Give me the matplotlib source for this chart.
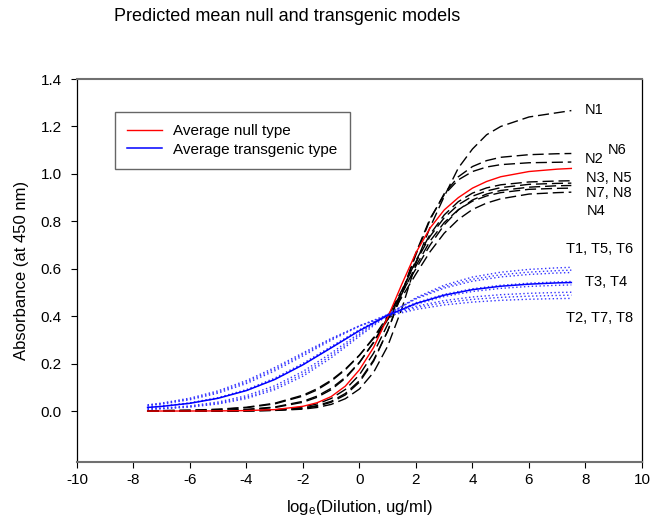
import matplotlib
matplotlib.use('Agg')
import matplotlib.pyplot as plt

plt.rcParams['font.family'] = ['Liberation Sans', 'DejaVu Sans']
plt.rcParams['mathtext.fontset'] = 'custom'
plt.rcParams['mathtext.rm'] = 'Liberation Sans'
plt.rcParams['mathtext.it'] = 'Liberation Sans:italic'
plt.rcParams['axes.unicode_minus'] = False

x_null = [-7.5, -7, -6, -5, -4, -3, -2, -1.5, -1, -0.5, 0, 0.5, 1, 1.5,
          2, 2.5, 3, 3.5, 4, 4.5, 5, 6, 7, 7.5]
x_trans = [-7.5, -7, -6, -5, -4, -3, -2, -1, 0, 1, 2, 3, 4, 5, 6, 7, 7.5]

# null models
n1 = [0.000, 0.000, 0.0001, 0.0002, 0.0007, 0.0024, 0.008, 0.015, 0.028, 0.052,
      0.093, 0.163, 0.274, 0.432, 0.623, 0.775, 0.905, 1.025, 1.105, 1.165,
      1.200, 1.240, 1.258, 1.267]
n2 = [0.000, 0.000, 0.0001, 0.0002, 0.0008, 0.003, 0.011, 0.020, 0.037, 0.068,
      0.122, 0.210, 0.338, 0.498, 0.668, 0.812, 0.912, 0.975, 1.010, 1.029,
      1.039, 1.047, 1.049, 1.050]
n6 = [0.000, 0.000, 0.0001, 0.0003, 0.0011, 0.0037, 0.0125, 0.023, 0.041, 0.074,
      0.128, 0.215, 0.338, 0.494, 0.660, 0.807, 0.917, 0.988, 1.031, 1.056,
      1.070, 1.081, 1.085, 1.086]
n3 = [0.000, 0.0001, 0.0002, 0.0005, 0.0016, 0.0053, 0.017, 0.030, 0.053, 0.091,
      0.153, 0.244, 0.366, 0.505, 0.635, 0.745, 0.827, 0.883, 0.919, 0.941,
      0.954, 0.966, 0.970, 0.971]
n5 = [0.0002, 0.0003, 0.0009, 0.0022, 0.0057, 0.0147, 0.037, 0.058, 0.090, 0.138,
      0.204, 0.291, 0.395, 0.510, 0.630, 0.737, 0.815, 0.870, 0.906, 0.928,
      0.942, 0.956, 0.960, 0.961]
n7 = [0.0010, 0.0014, 0.0031, 0.0066, 0.0142, 0.030, 0.063, 0.089, 0.126, 0.174,
      0.235, 0.310, 0.400, 0.500, 0.600, 0.700, 0.785, 0.848, 0.890, 0.915,
      0.930, 0.944, 0.950, 0.951]
n8 = [0.0003, 0.0005, 0.0011, 0.0028, 0.0069, 0.017, 0.041, 0.063, 0.096, 0.142,
      0.206, 0.288, 0.386, 0.494, 0.612, 0.717, 0.795, 0.849, 0.885, 0.907,
      0.921, 0.935, 0.939, 0.940]
n4 = [0.0012, 0.0018, 0.0037, 0.0077, 0.016, 0.033, 0.067, 0.094, 0.130, 0.177,
      0.236, 0.306, 0.386, 0.480, 0.578, 0.672, 0.750, 0.808, 0.850, 0.877,
      0.895, 0.915, 0.921, 0.923]
null_avg = [0.000, 0.000, 0.0001, 0.0006, 0.0019, 0.006, 0.020, 0.035, 0.061, 0.105,
            0.174, 0.268, 0.395, 0.535, 0.668, 0.772, 0.848, 0.900, 0.940, 0.968,
            0.988, 1.010, 1.020, 1.023]

# transgenic models
t1 = [0.0068, 0.0092, 0.0167, 0.0298, 0.0526, 0.090, 0.147, 0.2245, 0.3153,
      0.4045, 0.4782, 0.5309, 0.565, 0.5854, 0.5973, 0.6038, 0.606]
t5 = [0.0079, 0.0106, 0.0189, 0.0335, 0.0581, 0.0977, 0.1565, 0.2341, 0.3222,
      0.4068, 0.4754, 0.5243, 0.5557, 0.5748, 0.5858, 0.5921, 0.5941]
t6 = [0.0094, 0.0125, 0.0219, 0.0381, 0.0648, 0.1067, 0.1669, 0.2441, 0.3292,
      0.4089, 0.4728, 0.5182, 0.5476, 0.5655, 0.576, 0.5821, 0.5841]
t3 = [0.0152, 0.0197, 0.033, 0.0543, 0.0871, 0.1343, 0.1964, 0.2685, 0.3418,
      0.4065, 0.4568, 0.4922, 0.5156, 0.5302, 0.5391, 0.5444, 0.5462]
t4 = [0.0159, 0.0207, 0.0346, 0.0568, 0.0906, 0.1388, 0.201, 0.2722, 0.3427,
      0.4037, 0.4504, 0.4829, 0.5041, 0.5173, 0.5254, 0.5302, 0.5318]
t2 = [0.0228, 0.0292, 0.0476, 0.0756, 0.116, 0.1694, 0.2326, 0.2985, 0.3585,
      0.4068, 0.4419, 0.4658, 0.481, 0.4906, 0.4964, 0.4999, 0.501]
t7 = [0.0245, 0.0315, 0.051, 0.0805, 0.1224, 0.1767, 0.2395, 0.3032, 0.3597,
      0.4042, 0.436, 0.4573, 0.4709, 0.4793, 0.4844, 0.4875, 0.4885]
t8 = [0.0263, 0.0337, 0.0544, 0.0854, 0.1286, 0.1834, 0.2453, 0.3063, 0.3591,
      0.3998, 0.4285, 0.4474, 0.4595, 0.4669, 0.4714, 0.4741, 0.475]
trans_avg = [0.0151, 0.0196, 0.0327, 0.0539, 0.0864, 0.133, 0.195, 0.2666, 0.339,
             0.4035, 0.4535, 0.4886, 0.5118, 0.5263, 0.535, 0.5404, 0.542]

# curve labels on the right
label_text = ['N1', 'N6', 'N2', 'N3, N5', 'N7, N8', 'N4',
              'T1, T5, T6', 'T3, T4', 'T2, T7, T8']
label_x = [7.98, 8.8, 7.98, 8.02, 8.02, 8.04, 7.31, 7.98, 7.31]
label_y = [1.269, 1.10, 1.064, 0.984, 0.918, 0.845, 0.682, 0.543, 0.393]

fig = plt.figure(figsize=(6.54, 5.21), dpi=100)
ax = fig.add_axes([0.1177, 0.1132, 0.8639, 0.7351])

for y in [n1, n2, n6, n3, n5, n7, n8, n4]:
    ax.plot(x_null, y, color='black', lw=1.0, dashes=(8, 3.5))
for y in [t1, t5, t6, t3, t4, t2, t7, t8]:
    ax.plot(x_trans, y, color='#3333ff', lw=1.0, linestyle=(0, (1, 1.8)))

ax.plot(x_null, null_avg, color='red', lw=1.0, label='Average null type')
ax.plot(x_trans, trans_avg, color='blue', lw=1.1, label='Average transgenic type')

for t, lx, ly in zip(label_text, label_x, label_y):
    ax.text(lx, ly, t, fontsize=10.5, va='center', ha='left')

ax.set_xlim(-10, 10)
ax.set_ylim(-0.215, 1.4)
ax.set_xticks(range(-10, 11, 2))
ax.set_yticks([0.0, 0.2, 0.4, 0.6, 0.8, 1.0, 1.2, 1.4])
ax.set_yticklabels(['0.0', '0.2', '0.4', '0.6', '0.8', '1.0', '1.2', '1.4'])
ax.tick_params(direction='out', length=4, width=0.8, labelsize=11, pad=4)
ax.tick_params(axis='y', pad=7)

for side in ['top', 'bottom']:
    ax.spines[side].set_color('#707070')
    ax.spines[side].set_linewidth(1.5)
for side in ['left', 'right']:
    ax.spines[side].set_color('black')
    ax.spines[side].set_linewidth(0.9)

ax.set_xlabel(r'log$_\mathrm{e}$(Dilution, ug/ml)', fontsize=12, labelpad=8)
ax.set_ylabel('Absorbance (at 450 nm)', fontsize=12, labelpad=8)
fig.text(0.439, 0.969, 'Predicted mean null and transgenic models',
         fontsize=13, ha='center', va='center')

leg = ax.legend(loc='upper left', bbox_to_anchor=(0.0673, 0.9146), fontsize=11,
                frameon=True, fancybox=False, borderaxespad=0, borderpad=0.8,
                handlelength=2.3, handletextpad=0.7, labelspacing=0.3)
leg.get_frame().set_edgecolor('#404040')
leg.get_frame().set_linewidth(1.0)

fig.savefig('out.png', dpi=100)
